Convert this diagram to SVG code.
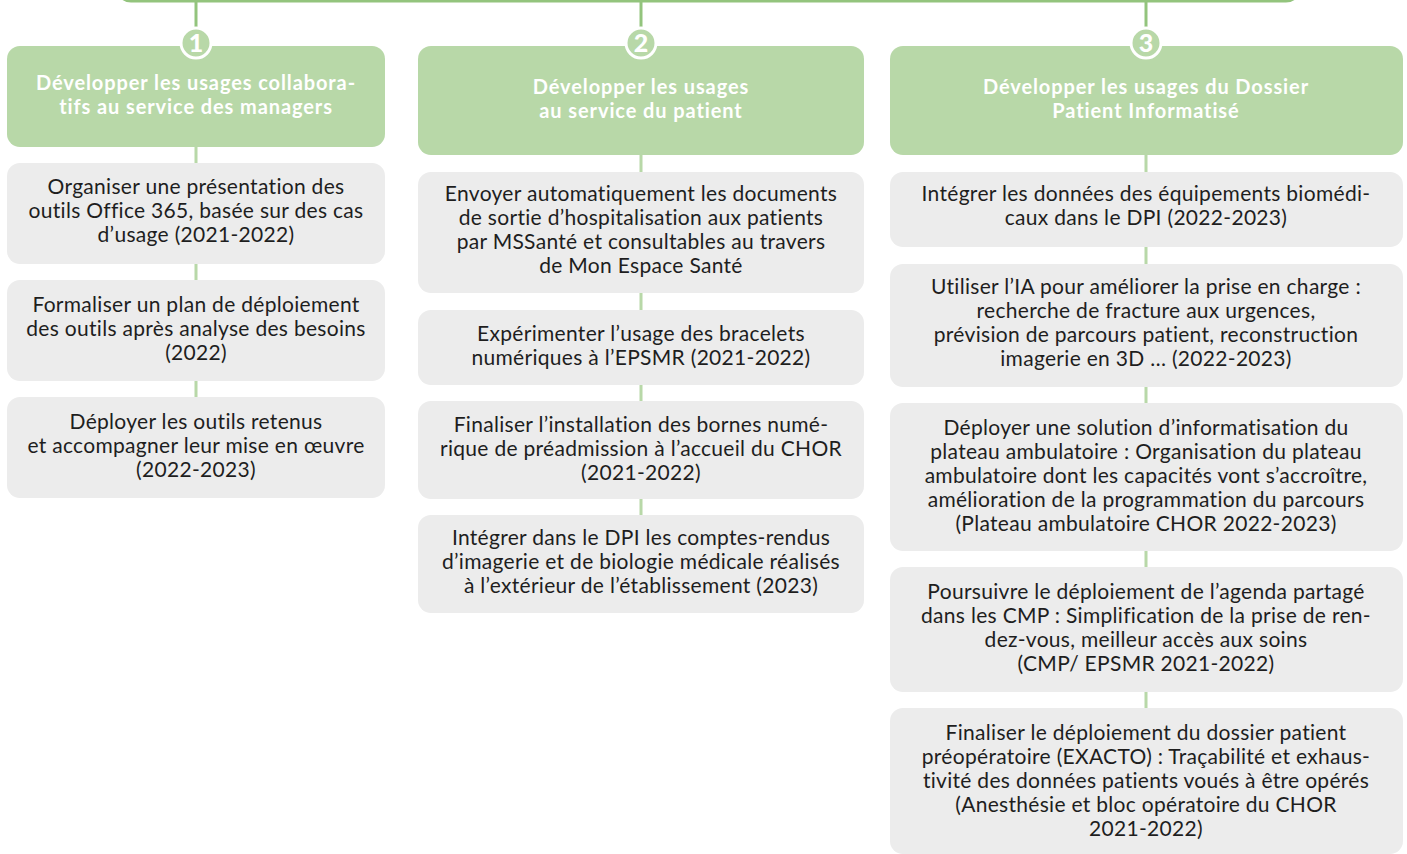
<svg xmlns="http://www.w3.org/2000/svg" width="1407" height="854" viewBox="0 0 1407 854">
<style>
.hdr{fill:#b8d8a8}
.box{fill:#ececec}
.ht{font-family:"Lato","Noto Sans",sans-serif;font-weight:bold;font-size:20px;letter-spacing:0.9px;fill:#ffffff;text-anchor:middle}
.bt{font-family:"Lato","Noto Sans",sans-serif;font-size:21px;letter-spacing:0.3px;fill:#1e1e1e;text-anchor:middle}
.num{font-family:"Lato","Noto Sans",sans-serif;font-weight:900;font-size:25px;fill:#ffffff;text-anchor:middle}
.lk{stroke:#b8d8a8;stroke-width:3;fill:none}
.lt{stroke:#93c47d;stroke-width:3;fill:none}
</style>
<rect width="1407" height="854" fill="#ffffff"/>
<g id="connectors">
<rect class="lt" x="117" y="-40" width="1183" height="41" rx="14"/>
<line class="lt" x1="196" y1="1" x2="196" y2="30"/>
<line class="lt" x1="641" y1="1" x2="641" y2="30"/>
<line class="lt" x1="1146" y1="1" x2="1146" y2="30"/>
<line class="lk" x1="196" y1="140" x2="196" y2="400"/>
<line class="lk" x1="641" y1="150" x2="641" y2="520"/>
<line class="lk" x1="1146" y1="150" x2="1146" y2="712"/>
</g>
<g id="col1-header">
<rect class="hdr" x="7" y="46" width="378" height="101" rx="13"/>
<text class="ht" x="196" y="90">Développer les usages collabora-</text>
<text class="ht" x="196" y="114">tifs au service des managers</text>
<circle cx="196" cy="43" r="15" fill="#b8d8a8" stroke="#ffffff" stroke-width="3"/>
<text class="num" x="196" y="52">1</text>
</g>
<g id="col2-header">
<rect class="hdr" x="418" y="46" width="446" height="109" rx="13"/>
<text class="ht" x="641" y="94">Développer les usages</text>
<text class="ht" x="641" y="118">au service du patient</text>
<circle cx="641" cy="43" r="15" fill="#b8d8a8" stroke="#ffffff" stroke-width="3"/>
<text class="num" x="641" y="52">2</text>
</g>
<g id="col3-header">
<rect class="hdr" x="890" y="46" width="513" height="109" rx="13"/>
<text class="ht" x="1146" y="94">Développer les usages du Dossier</text>
<text class="ht" x="1146" y="118">Patient Informatisé</text>
<circle cx="1146" cy="43" r="15" fill="#b8d8a8" stroke="#ffffff" stroke-width="3"/>
<text class="num" x="1146" y="52">3</text>
</g>
<g id="c1b1">
<rect class="box" x="7" y="163" width="378" height="101" rx="13"/>
<text class="bt" x="196" y="194">Organiser une présentation des</text>
<text class="bt" x="196" y="218">outils Office 365, basée sur des cas</text>
<text class="bt" x="196" y="242">d’usage (2021-2022)</text>
</g>
<g id="c1b2">
<rect class="box" x="7" y="280" width="378" height="101" rx="13"/>
<text class="bt" x="196" y="312">Formaliser un plan de déploiement</text>
<text class="bt" x="196" y="336">des outils après analyse des besoins</text>
<text class="bt" x="196" y="360">(2022)</text>
</g>
<g id="c1b3">
<rect class="box" x="7" y="397" width="378" height="101" rx="13"/>
<text class="bt" x="196" y="429">Déployer les outils retenus</text>
<text class="bt" x="196" y="453">et accompagner leur mise en œuvre</text>
<text class="bt" x="196" y="477">(2022-2023)</text>
</g>
<g id="c2b1">
<rect class="box" x="418" y="172" width="446" height="121" rx="13"/>
<text class="bt" x="641" y="201">Envoyer automatiquement les documents</text>
<text class="bt" x="641" y="225">de sortie d’hospitalisation aux patients</text>
<text class="bt" x="641" y="249">par MSSanté et consultables au travers</text>
<text class="bt" x="641" y="273">de Mon Espace Santé</text>
</g>
<g id="c2b2">
<rect class="box" x="418" y="310" width="446" height="75" rx="13"/>
<text class="bt" x="641" y="341">Expérimenter l’usage des bracelets</text>
<text class="bt" x="641" y="365">numériques à l’EPSMR (2021-2022)</text>
</g>
<g id="c2b3">
<rect class="box" x="418" y="401" width="446" height="98" rx="13"/>
<text class="bt" x="641" y="432">Finaliser l’installation des bornes numé-</text>
<text class="bt" x="641" y="456">rique de préadmission à l’accueil du CHOR</text>
<text class="bt" x="641" y="480">(2021-2022)</text>
</g>
<g id="c2b4">
<rect class="box" x="418" y="515" width="446" height="98" rx="13"/>
<text class="bt" x="641" y="545">Intégrer dans le DPI les comptes-rendus</text>
<text class="bt" x="641" y="569">d’imagerie et de biologie médicale réalisés</text>
<text class="bt" x="641" y="593">à l’extérieur de l’établissement (2023)</text>
</g>
<g id="c3b1">
<rect class="box" x="890" y="172" width="513" height="75" rx="13"/>
<text class="bt" x="1146" y="201">Intégrer les données des équipements biomédi-</text>
<text class="bt" x="1146" y="225">caux dans le DPI (2022-2023)</text>
</g>
<g id="c3b2">
<rect class="box" x="890" y="264" width="513" height="123" rx="13"/>
<text class="bt" x="1146" y="294">Utiliser l’IA pour améliorer la prise en charge :</text>
<text class="bt" x="1146" y="318">recherche de fracture aux urgences,</text>
<text class="bt" x="1146" y="342">prévision de parcours patient, reconstruction</text>
<text class="bt" x="1146" y="366">imagerie en 3D … (2022-2023)</text>
</g>
<g id="c3b3">
<rect class="box" x="890" y="403" width="513" height="148" rx="13"/>
<text class="bt" x="1146" y="435">Déployer une solution d’informatisation du</text>
<text class="bt" x="1146" y="459">plateau ambulatoire : Organisation du plateau</text>
<text class="bt" x="1146" y="483">ambulatoire dont les capacités vont s’accroître,</text>
<text class="bt" x="1146" y="507">amélioration de la programmation du parcours</text>
<text class="bt" x="1146" y="531">(Plateau ambulatoire CHOR 2022-2023)</text>
</g>
<g id="c3b4">
<rect class="box" x="890" y="567" width="513" height="125" rx="13"/>
<text class="bt" x="1146" y="599">Poursuivre le déploiement de l’agenda partagé</text>
<text class="bt" x="1146" y="623">dans les CMP : Simplification de la prise de ren-</text>
<text class="bt" x="1146" y="647">dez-vous, meilleur accès aux soins</text>
<text class="bt" x="1146" y="671">(CMP/ EPSMR 2021-2022)</text>
</g>
<g id="c3b5">
<rect class="box" x="890" y="708" width="513" height="146" rx="13"/>
<text class="bt" x="1146" y="740">Finaliser le déploiement du dossier patient</text>
<text class="bt" x="1146" y="764">préopératoire (EXACTO) : Traçabilité et exhaus-</text>
<text class="bt" x="1146" y="788">tivité des données patients voués à être opérés</text>
<text class="bt" x="1146" y="812">(Anesthésie et bloc opératoire du CHOR</text>
<text class="bt" x="1146" y="836">2021-2022)</text>
</g>
</svg>
